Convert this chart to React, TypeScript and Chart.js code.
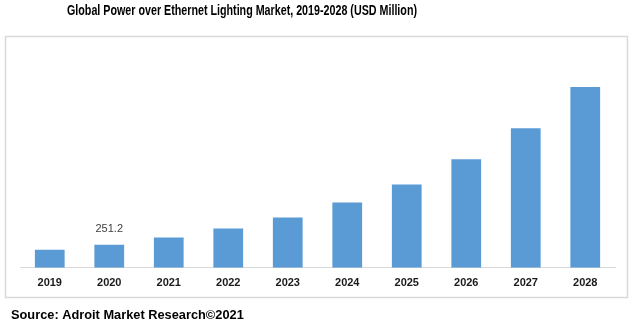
import React, { useEffect, useRef } from "react";
import { Chart, registerables } from "chart.js";

Chart.register(...registerables);

const categories = ["2019", "2020", "2021", "2022", "2023", "2024", "2025", "2026", "2027", "2028"];
const marketValues = [197, 251.2, 328, 426, 546, 710, 906, 1180, 1518, 1966];
const labelledIndex = [1];
const titleText = "Global Power over Ethernet Lighting Market, 2019-2028 (USD Million)";
const sourceText = "Source: Adroit Market Research\u00A92021";

const decorPlugin = {
  id: "decor",
  beforeDraw(chart: any) {
    const ctx = chart.ctx;
    ctx.save();
    ctx.fillStyle = "#ffffff";
    ctx.fillRect(0, 0, chart.width, chart.height);
    ctx.strokeStyle = "#d9d9d9";
    ctx.lineWidth = 1.5;
    ctx.strokeRect(5.5, 36.5, 622, 261);
    ctx.restore();
  },
  afterDraw(chart: any) {
    const ctx = chart.ctx;
    ctx.save();
    // title (condensed to mimic a narrow bold face)
    ctx.fillStyle = "#000000";
    ctx.font = "bold 14px 'Liberation Sans', Arial, sans-serif";
    ctx.textBaseline = "middle";
    ctx.textAlign = "center";
    const w = ctx.measureText(titleText).width;
    const sx = 350 / w;
    ctx.save();
    ctx.translate(242, 11);
    ctx.scale(sx, 1);
    ctx.fillText(titleText, 0, 0);
    ctx.restore();
    // source
    ctx.font = "bold 12.8px 'Liberation Sans', Arial, sans-serif";
    ctx.textAlign = "left";
    ctx.fillText(sourceText, 11, 315);
    // data labels
    const meta = chart.getDatasetMeta(0);
    ctx.font = "11px 'Liberation Sans', Arial, sans-serif";
    ctx.fillStyle = "#404040";
    ctx.textAlign = "center";
    ctx.textBaseline = "bottom";
    labelledIndex.forEach((i) => {
      const bar = meta.data[i];
      ctx.fillText(String(marketValues[i]), bar.x, bar.y - 10);
    });
    ctx.restore();
  },
};

export default function App() {
  const ref = useRef<HTMLCanvasElement | null>(null);
  useEffect(() => {
    if (!ref.current) return;
    const chart = new Chart(ref.current, {
      type: "bar",
      data: {
        labels: categories,
        datasets: [
          {
            data: marketValues,
            backgroundColor: "#5B9BD5",
            barPercentage: 0.5,
            categoryPercentage: 1,
          },
        ],
      },
      options: {
        animation: false,
        responsive: false,
        maintainAspectRatio: false,
        layout: { padding: { top: 47, left: 20, right: 18, bottom: 36 } },
        plugins: { legend: { display: false }, tooltip: { enabled: false }, title: { display: false } },
        scales: {
          x: {
            grid: { display: false },
            border: { color: "#d9d9d9", width: 1 },
            ticks: {
              color: "#1a1a1a",
              padding: 1,
              font: { family: "'Liberation Sans', Arial, sans-serif", size: 11, weight: "bold" },
            },
          },
          y: { display: false, min: 0, max: 2400 },
        },
      },
      plugins: [decorPlugin],
    });
    return () => chart.destroy();
  }, []);
  return (
    <div style={{ position: "fixed", left: 0, top: 0, width: 633, height: 327, background: "#fff" }}>
      <canvas ref={ref} width={633} height={327} style={{ display: "block" }} />
    </div>
  );
}
